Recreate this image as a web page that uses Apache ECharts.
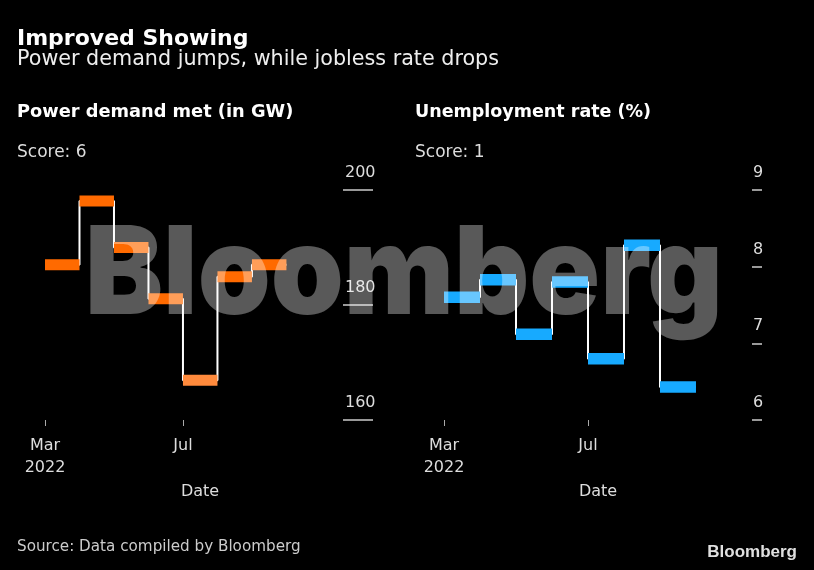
<!DOCTYPE html>
<html><head><meta charset="utf-8">
<script src="https://cdn.jsdelivr.net/npm/echarts@6/dist/echarts.min.js"></script>
<style>html,body{margin:0;padding:0;background:#000;} #chart{width:814px;height:570px;}</style>
</head><body><div id="chart"></div>
<script>
// ---- data ----
const months = ['2022-03','2022-04','2022-05','2022-06','2022-07','2022-08','2022-09'];
const powerDemand = [187.0, 198.1, 190.0, 181.1, 166.9, 184.9, 187.0];
const unemploymentRate = [7.6, 7.83, 7.12, 7.8, 6.8, 8.28, 6.43];
const xTickMonths = ['2022-03', '2022-07'];
const xTickLabels = ['Mar\n2022', 'Jul'];
const powerTicks = [160, 180, 200];
const rateTicks = [6, 7, 8, 9];
const powerBarColors = ['#ff6a00','#ff6a00','#ff6a00','#ff6a00','#ff8a3c','#ff6a00','#ff6a00'];
const rateBarColors = ['#17aaff','#17aaff','#17aaff','#17aaff','#17aaff','#17aaff','#17aaff'];

const FONT = '"DejaVu Sans", sans-serif';
const xTickValues = xTickMonths.map(m => months.indexOf(m));

function stepData(vals) {
  const d = months.map((m, i) => [i, vals[i]]);
  d.push([months.length, vals[vals.length - 1]]);
  return d;
}
function barData(vals) {
  return months.map((m, i) => [i, i + 1, vals[i]]);
}
function barRender(colors, h) {
  return function (params, api) {
    const a = api.coord([api.value(0), api.value(2)]);
    const b = api.coord([api.value(1), api.value(2)]);
    return {
      type: 'rect',
      shape: { x: a[0], y: a[1] - h / 2, width: b[0] - a[0], height: h },
      style: { fill: colors[params.dataIndex] }
    };
  };
}
function xAxis(gridIndex, max, namePad) {
  return {
    gridIndex, type: 'value', min: 0, max: max,
    axisLine: { show: false, onZero: false },
    splitLine: { show: false },
    axisTick: { show: true, customValues: xTickValues, length: 6, lineStyle: { color: '#aaa', width: 1 } },
    axisLabel: {
      customValues: xTickValues, margin: 15, lineHeight: 22, fontSize: 16, fontFamily: FONT, color: '#ddd',
      formatter: v => { const k = xTickValues.indexOf(v); return k >= 0 ? xTickLabels[k] : ''; }
    },
    name: 'Date', nameLocation: 'middle', nameGap: 62,
    nameTextStyle: { fontSize: 16, fontFamily: FONT, color: '#ddd', lineHeight: 20, padding: namePad }
  };
}
function yAxis(gridIndex, ticks, tickLen, margin) {
  return {
    gridIndex, type: 'value', position: 'right',
    min: ticks[0], max: ticks[ticks.length - 1], interval: ticks[1] - ticks[0],
    axisLine: { show: false, onZero: false },
    splitLine: { show: false },
    axisTick: { show: true, length: tickLen, lineStyle: { color: '#ccc', width: 1.5 } },
    axisLabel: { margin: margin, align: 'left', verticalAlign: 'bottom', lineHeight: 34, fontSize: 16, fontFamily: FONT, color: '#ddd' }
  };
}

const chart = echarts.init(document.getElementById('chart'), null, { renderer: 'canvas' });
chart.setOption({
  backgroundColor: '#000',
  animation: false,
  grid: [
    { left: 45, right: 471, top: 190, bottom: 150 },
    { left: 444, right: 62, top: 190, bottom: 150 }
  ],
  xAxis: [ xAxis(0, 8.64, [0, 0, 0, 12]), xAxis(1, 8.556, [0, 0, 0, 0]) ],
  yAxis: [ yAxis(0, powerTicks, 30, 2), yAxis(1, rateTicks, 10, 1) ],
  series: [
    { type: 'line', xAxisIndex: 0, yAxisIndex: 0, step: 'end', data: stepData(powerDemand),
      showSymbol: false, lineStyle: { color: '#fff', width: 2 }, z: 2 },
    { type: 'custom', xAxisIndex: 0, yAxisIndex: 0, data: barData(powerDemand),
      encode: { x: [0, 1], y: 2 }, renderItem: barRender(powerBarColors, 11), z: 3 },
    { type: 'line', xAxisIndex: 1, yAxisIndex: 1, step: 'end', data: stepData(unemploymentRate),
      showSymbol: false, lineStyle: { color: '#fff', width: 2 }, z: 2 },
    { type: 'custom', xAxisIndex: 1, yAxisIndex: 1, data: barData(unemploymentRate),
      encode: { x: [0, 1], y: 2 }, renderItem: barRender(rateBarColors, 11.5), z: 3 }
  ],
  graphic: [
    { type: 'text', x: 17, y: 39, style: { text: 'Improved Showing', fontSize: 22, fontWeight: 'bold', fontFamily: FONT, fill: '#fff', verticalAlign: 'middle', textVerticalAlign: 'middle' } },
    { type: 'text', x: 17, y: 60, style: { text: 'Power demand jumps, while jobless rate drops', fontSize: 20.7, fontFamily: FONT, fill: '#eee', verticalAlign: 'middle', textVerticalAlign: 'middle' } },
    { type: 'text', x: 17, y: 112, style: { text: 'Power demand met (in GW)', fontSize: 17.8, fontWeight: 'bold', fontFamily: FONT, fill: '#fff', verticalAlign: 'middle', textVerticalAlign: 'middle' } },
    { type: 'text', x: 415, y: 112, style: { text: 'Unemployment rate (%)', fontSize: 17.5, fontWeight: 'bold', fontFamily: FONT, fill: '#fff', verticalAlign: 'middle', textVerticalAlign: 'middle' } },
    { type: 'text', x: 17, y: 153, style: { text: 'Score: 6', fontSize: 17, fontFamily: FONT, fill: '#ddd', verticalAlign: 'middle', textVerticalAlign: 'middle' } },
    { type: 'text', x: 415, y: 153, style: { text: 'Score: 1', fontSize: 17, fontFamily: FONT, fill: '#ddd', verticalAlign: 'middle', textVerticalAlign: 'middle' } },
    { type: 'text', x: 17, y: 547, style: { text: 'Source: Data compiled by Bloomberg', fontSize: 15.2, fontFamily: FONT, fill: '#ccc', verticalAlign: 'middle', textVerticalAlign: 'middle' } },
    { type: 'text', x: 797, y: 552, style: { text: 'Bloomberg', fontSize: 17, fontWeight: 'bold', fontFamily: '"Liberation Sans", Arial, sans-serif', fill: '#e0e0e0', align: 'right', textAlign: 'right', verticalAlign: 'middle', textVerticalAlign: 'middle' } },
    { type: 'text', x: 85, y: 277, scaleX: 0.95, z: 100, silent: true,
      style: { text: 'Bloomberg', fontSize: 123, fontWeight: 900, fontFamily: 'Inter, "Liberation Sans", Arial, sans-serif', fill: 'rgba(255,255,255,0.35)', verticalAlign: 'middle', textVerticalAlign: 'middle' } }
  ]
});
</script>
</body></html>
